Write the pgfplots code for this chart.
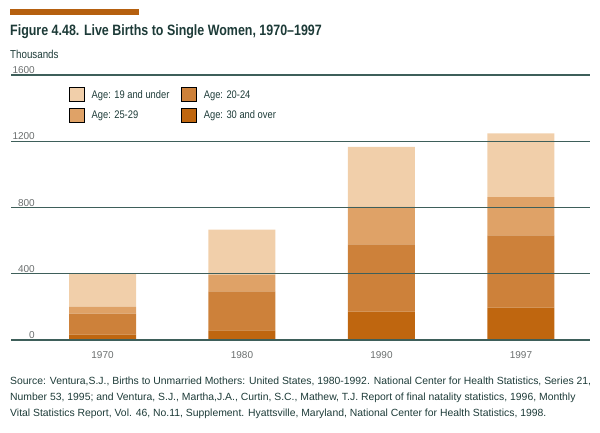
\documentclass[border=0pt]{standalone}
\usepackage{fontspec}
\setmainfont{Liberation Sans}[FakeStretch=0.85, Ligatures=TeX]
\newfontfamily\titlefont{Liberation Sans}[FakeStretch=0.83, Ligatures=TeX]
\newfontfamily\plainfont{Liberation Sans}[Ligatures=TeX]
\usepackage{pgfplots}
\pgfplotsset{compat=1.18}
\definecolor{cA}{HTML}{F1CFAA}
\definecolor{cB}{HTML}{DFA267}
\definecolor{cC}{HTML}{CD813A}
\definecolor{cD}{HTML}{BF660F}
\definecolor{gridc}{HTML}{3E5F5A}
\definecolor{titlec}{HTML}{1D3B38}
\definecolor{tickc}{HTML}{6A6E6E}
\definecolor{barc}{HTML}{B5600F}
\pgfplotsset{sqlegend/.style={legend image code/.code={\fill[#1] (0pt,-7pt) rectangle (15pt,7pt);}}}
\begin{document}
\begin{tikzpicture}[x=1pt,y=1pt]
\path[use as bounding box] (0,0) rectangle (600,433);
\fill[barc] (10,424) rectangle (139,417.5);
\node[anchor=base west, inner sep=0pt, text=titlec] at (10,397)
  {\titlefont\fontsize{15}{17}\selectfont\bfseries Figure 4.48. Live Births to Single Women, 1970–1997};
\node[anchor=base west, inner sep=0pt, text=titlec] at (10,374)
  {\fontsize{11.5}{13}\selectfont Thousands};
\begin{axis}[
  at={(11pt,93pt)}, anchor=south west,
  scale only axis, width=579pt, height=265pt,
  ybar stacked, bar width=67pt,
  xmin=-0.656, xmax=3.495, ymin=0, ymax=1600,
  xtick={0,1,2,3}, xticklabels={1970,1980,1990,1997},
  ytick={0,400,800,1200,1600},
  axis line style={draw=none},
  major tick length=0pt,
  ymajorgrids, grid style={gridc, line width=1.1pt},
  axis on top,
  /pgf/number format/assume math mode=true,
  /pgf/number format/1000 sep={},
  yticklabel style={anchor=south east, xshift=24pt, yshift=1pt, inner sep=0pt,
    font=\plainfont\fontsize{10}{11}\selectfont, text=tickc},
  xticklabel style={anchor=base, yshift=-18.5pt, inner sep=0pt,
    font=\plainfont\fontsize{10}{11}\selectfont, text=tickc},
  legend columns=2,
  legend style={at={(axis description cs:0.1002,0.9547)}, anchor=north west,
    draw=none, fill=none, inner sep=0pt, row sep=6pt,
    font=\fontsize{11}{12}\selectfont, text=titlec,
    nodes={inner sep=0pt, outer sep=0pt, text depth=0pt},
    /tikz/every odd column/.append style={column sep=7pt},
    /tikz/every even column/.append style={column sep=12pt}},
  legend cell align=left,
  sqlegend,
]
\addlegendimage{fill=cA}
\addlegendimage{fill=cC}
\addlegendimage{fill=cB}
\addlegendimage{fill=cD}
\addplot[fill=cD, draw=none] coordinates {(0,32) (1,58) (2,172) (3,196)};
\addplot[fill=cC, draw=none] coordinates {(0,127) (1,235) (2,406) (3,436)};
\addplot[fill=cB, draw=none] coordinates {(0,42) (1,101) (2,228) (3,231)};
\addplot[fill=cA, draw=none] coordinates {(0,198) (1,272) (2,360) (3,385)};
\legend{Age: 19 and under, Age: 20-24, Age: 25-29, Age: 30 and over}
\end{axis}
\node[anchor=base west, inner sep=0pt, align=left, text=titlec,
  font=\plainfont\fontsize{10.4}{16}\selectfont] at (10,16)
  {Source: Ventura,S.J., Births to Unmarried Mothers: United States, 1980-1992. National Center for Health Statistics, Series 21,\\
   Number 53, 1995; and Ventura, S.J., Martha,J.A., Curtin, S.C., Mathew, T.J. Report of final natality statistics, 1996, Monthly\\
   Vital Statistics Report, Vol. 46, No.11, Supplement. Hyattsville, Maryland, National Center for Health Statistics, 1998.};
\end{tikzpicture}
\end{document}
